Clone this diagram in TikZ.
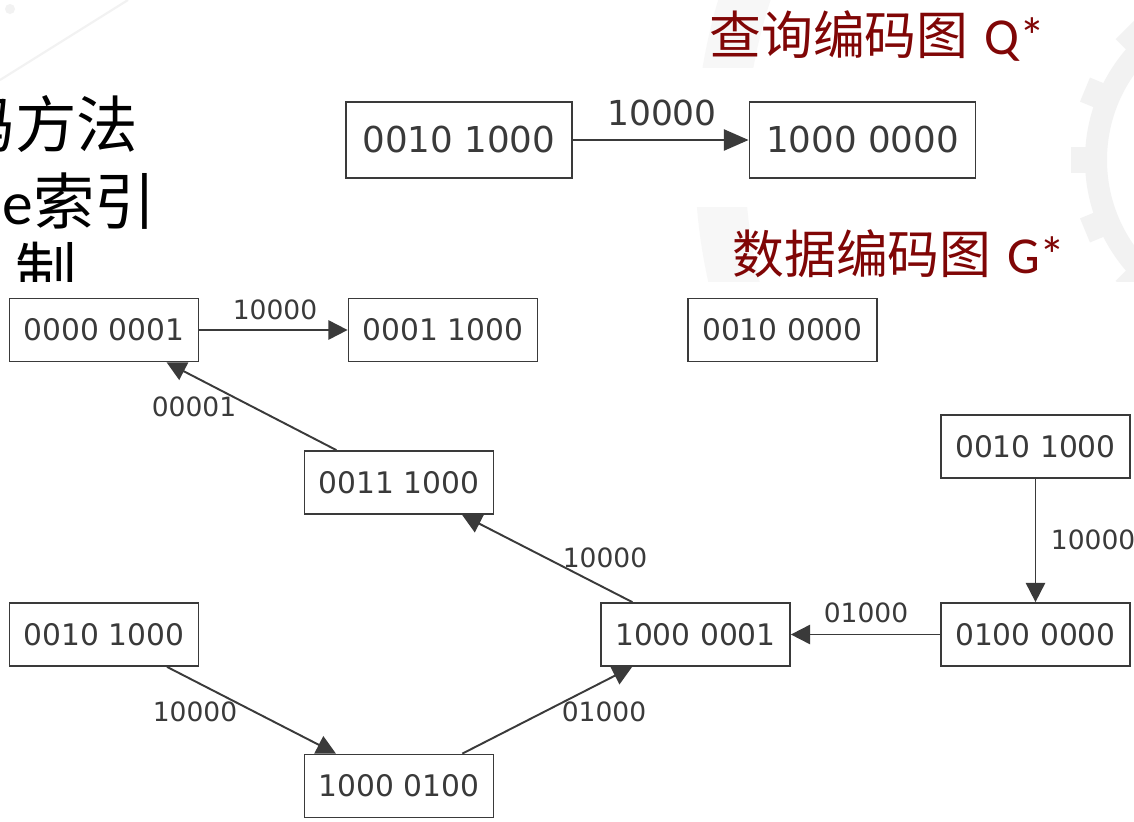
\documentclass[tikz,border=0pt]{standalone}
\usepackage{fontspec}
\newfontfamily\gv{DejaVu Sans}
\newfontfamily\cjk{Noto Sans CJK SC}
\newfontfamily\lat{Carlito}
\usetikzlibrary{arrows.meta}
\definecolor{ink}{RGB}{58,58,58}
\definecolor{titlered}{RGB}{128,6,6}
\definecolor{wmark}{RGB}{242,242,242}
\definecolor{wmarklight}{RGB}{247,247,247}
\begin{document}
\begin{tikzpicture}[x=0.02cm,y=-0.02cm,
  qbox/.style={draw=ink, line width=1.1pt, fill=white, minimum width=4.52cm,
    minimum height=1.52cm, inner sep=0pt, text=ink, font=\gv\fontsize{20.3}{24}\selectfont},
  gbox/.style={draw=ink, line width=1.0pt, fill=white, minimum width=3.78cm,
    minimum height=1.26cm, inner sep=0pt, text=ink, font=\gv\fontsize{16.9}{20}\selectfont},
  qedge/.style={draw=ink, line width=1.1pt, -{Triangle[length=14pt,width=12pt]}},
  gedge/.style={draw=ink, line width=1.1pt, -{Triangle[length=11pt,width=11pt]}},
  qlbl/.style={text=ink, inner sep=0pt, font=\gv\fontsize{19.6}{22}\selectfont},
  glbl/.style={text=ink, inner sep=0pt, font=\gv\fontsize{15.1}{18}\selectfont},
  slide/.style={inner sep=0pt, font=\cjk\fontsize{35}{40}\selectfont},
  slidelat/.style={inner sep=0pt, font=\lat\fontsize{35}{40}\selectfont},
  heading/.style={inner sep=0pt, text=titlered, font=\fontsize{29.5}{34}\selectfont},
]
\useasboundingbox (0,0) rectangle (1134,822);
\clip (0,0) rectangle (1134,822);
\fill[white] (0,0) rectangle (1134,822);

% faint gear watermark in the slide background
\begin{scope}[shift={(1255,160)}]
  \fill[wmarklight, even odd rule] (0,0) circle (560) (0,0) circle (510);
  \fill[wmark, even odd rule] (0,0) circle (170) (0,0) circle (148);
  \foreach \a in {0,22.5,...,337.5}
    \fill[wmark, rotate=\a] (165,-13) rectangle (184,13);
\end{scope}
% faint decorative strokes, top left
\draw[wmark, line width=1.2pt] (0,80) -- (128,0);
\fill[wmark] (10,9) circle (5);

% slide body text
\node[slide, anchor=base east] (t1a) at (15,147) {码};
\node[slide, anchor=base west] (t1b) at (15,147) {方法};
\node[slidelat, anchor=base east] (t2a) at (33,224) {e};
\node[slide, anchor=base west] (t2b) at (33,224) {索引};
\node[slide, anchor=base west] (t3) at (15,293) {制};

% headings
\node[heading, anchor=base west] (hq) at (709,54) {{\cjk 查询编码图} {\lat Q*}};
\node[heading, anchor=base west] (hg) at (732,273) {{\cjk 数据编码图} {\lat G*}};

% white panels holding the two drawings
\fill[white] (335,68) rectangle (1018,207);
\fill[white] (0,282) rectangle (1134,822);

% query code graph
\node[qbox] (q1) at (459,140) {0010 1000};
\node[qbox] (q2) at (862.5,140) {1000 0000};
\draw[qedge] (q1) -- (q2) node[qlbl] (lq) at (662,113) {10000};

% data code graph
\node[gbox] (a) at (104,330) {0000 0001};
\node[gbox] (b) at (443,330) {0001 1000};
\node[gbox] (c) at (782.5,330) {0010 0000};
\node[gbox] (d) at (399,482.5) {0011 1000};
\node[gbox] (e) at (1035.5,446.5) {0010 1000};
\node[gbox] (f) at (695.5,634.5) {1000 0001};
\node[gbox] (g) at (1035.5,634.5) {0100 0000};
\node[gbox] (h) at (104,634.5) {0010 1000};
\node[gbox] (i) at (399,786) {1000 0100};

\draw[gedge] (a) -- (b) node[glbl] (l1) at (275,310) {10000};
\draw[gedge] (d) -- (a) node[glbl] (l2) at (194,407) {00001};
\draw[gedge] (f) -- (d) node[glbl] (l3) at (605,558) {10000};
\draw[gedge] (e) -- (g) node[glbl, anchor=west] (l4) at (1050,540) {10000};
\draw[gedge] (g) -- (f) node[glbl] (l5) at (866,613) {01000};
\draw[gedge] (h) -- (i) node[glbl] (l6) at (195,712) {10000};
\draw[gedge] (i) -- (f) node[glbl] (l7) at (604,712) {01000};
\end{tikzpicture}
\end{document}
